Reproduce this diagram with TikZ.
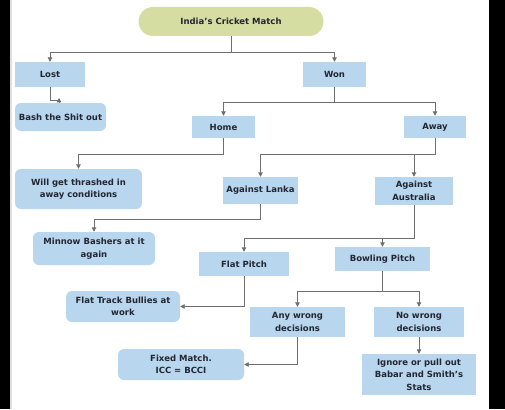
\documentclass[tikz,border=0pt]{standalone}
\usepackage{fontspec}
\setmainfont{DejaVu Sans}
\usepackage{tikz}
\usetikzlibrary{arrows,arrows.meta}
\definecolor{boxblue}{RGB}{184,214,237}
\definecolor{olive}{RGB}{213,221,163}
\definecolor{linegray}{RGB}{110,110,110}
\definecolor{txt}{RGB}{35,38,50}

\begin{document}
\begin{tikzpicture}[x=1pt, y=-1pt,
	every node/.style={font=\fontsize{8.5}{12.5}\selectfont\bfseries, text=txt, align=center, inner sep=1pt},
	box/.style={fill=boxblue, minimum width=#1},
	box/.default=60pt,
	endbox/.style={fill=boxblue, rounded corners=6pt, minimum width=#1},
	endbox/.default=100pt,
	link/.style={draw=linegray, line width=0.9pt, -{Triangle[width=4.5pt,length=4.5pt]}},
	]
	\useasboundingbox (0,0) rectangle (505,409);
	\fill[black] (0,0) rectangle (10,409);
	\fill[black] (489,0) rectangle (505,409);
	\fill[black!12] (10,0) rectangle (12,409);
	% nodes
	\node[fill=olive, rounded corners=14.5pt, minimum width=185pt, minimum height=29pt] (match) at (231,21.5) {India's Cricket Match};
	\node[box=70pt, minimum height=25pt] (lost) at (50,74.5) {Lost};
	\node[box=63pt, minimum height=25pt] (won) at (334.5,74.5) {Won};
	\node[endbox=91pt, minimum height=28pt] (bash) at (60.5,117) {Bash the Shit out};
	\node[box=63pt, minimum height=22pt] (home) at (223.5,127) {Home};
	\node[box=62pt, minimum height=22pt] (away) at (435,127) {Away};
	\node[endbox=127pt, minimum height=40pt] (thrashed) at (78.5,189) {Will get thrashed in\\away conditions};
	\node[box=75pt, minimum height=27pt] (lanka) at (260.5,190.5) {Against Lanka};
	\node[box=78pt, minimum height=28pt] (aus) at (414,191) {Against\\Australia};
	\node[endbox=122pt, minimum height=33pt] (minnow) at (94,248.5) {Minnow Bashers at it\\again};
	\node[box=90pt, minimum height=24pt] (flat) at (244,264) {Flat Pitch};
	\node[box=95pt, minimum height=24pt] (bowling) at (382.5,259) {Bowling Pitch};
	\node[endbox=114pt, minimum height=31pt] (bullies) at (123,306.5) {Flat Track Bullies at\\work};
	\node[box=95pt, minimum height=30pt] (anywrong) at (297.5,322) {Any wrong\\decisions};
	\node[box=90pt, minimum height=30pt] (nowrong) at (419,322) {No wrong\\decisions};
	\node[endbox=126pt, minimum height=31pt] (fixed) at (181,364.5) {Fixed Match.\\ICC = BCCI};
	\node[box=114pt, minimum height=41pt] (ignore) at (419,374.5) {Ignore or pull out\\Babar and Smith's\\Stats};
	% connectors
	\draw[link] (match.south) -- ++(0,16) coordinate (mj) -| (lost);
	\draw[link] (mj) -| (won);
	\coordinate (bj) at (59,100);
	\draw[link] (lost.south) |- (bj) -- (bj |- bash.north) -- ++(0,-5);
	\draw[link] (won.south) -- ++(0,15) coordinate (wj) -| (home);
	\draw[link] (wj) -| (away);
	\draw[link] (home.south) -- ++(0,16) -| (thrashed);
	\draw[link] (away.south) -- ++(0,16) coordinate (aj) -| (lanka);
	\draw[link] (aj) -| (aus);
	\draw[link] (lanka.south) -- ++(0,15) -| (minnow);
	\draw[link] (aus.south) -- ++(0,33) coordinate (pj) -| (flat);
	\draw[link] (pj) -| (bowling);
	\draw[link] (flat.south) |- (bullies.east);
	\draw[link] (bowling.south) -- ++(0,20) coordinate (dj) -| (anywrong);
	\draw[link] (dj) -| (nowrong);
	\draw[link] (anywrong.south) |- (fixed.east);
	\draw[link] (nowrong.south) -- (ignore.north);
\end{tikzpicture}
\end{document}
